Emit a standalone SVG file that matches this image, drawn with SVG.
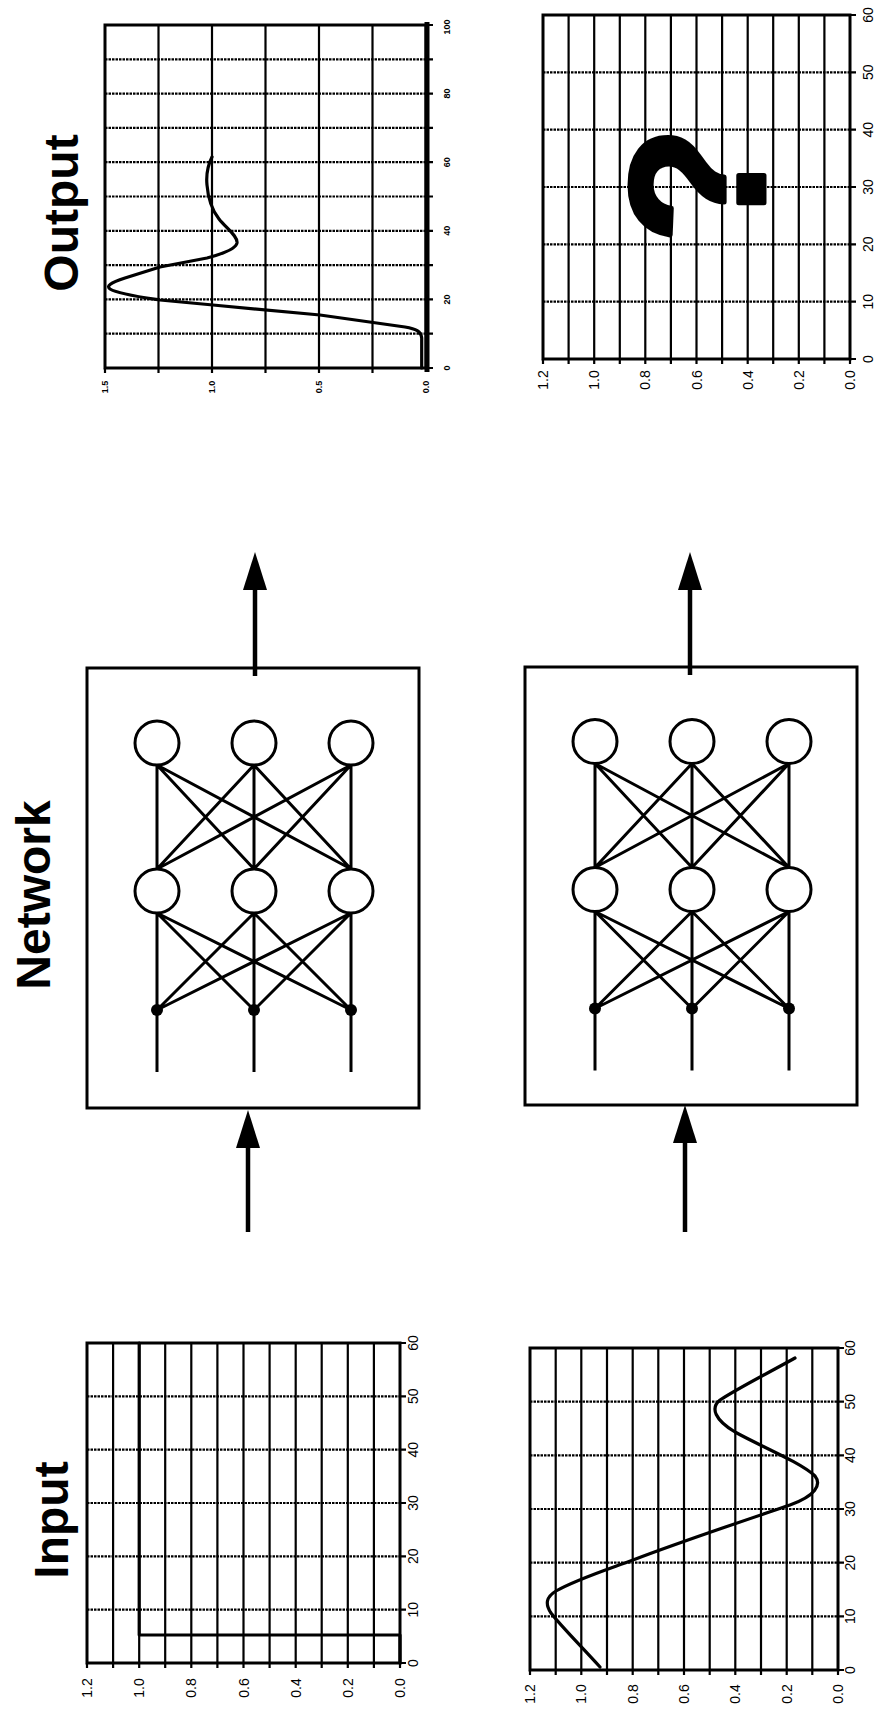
<svg xmlns="http://www.w3.org/2000/svg" width="880" height="1712" viewBox="0 0 880 1712">
<style>
.bg{fill:#fff}
.frame{fill:none;stroke:#000;stroke-width:3}
.gv{stroke:#000;stroke-width:2.2;fill:none}
.gh{stroke:#000;stroke-width:2.2;stroke-dasharray:2.5 1;fill:none}
.tk{stroke:#000;stroke-width:2.2}
.curve{fill:none;stroke:#000;stroke-width:3.2;stroke-linejoin:round;stroke-linecap:round}
.lbl{font-family:"Liberation Sans",Arial,sans-serif;font-size:14px;text-anchor:middle;dominant-baseline:central;fill:#000}
.lbls{font-family:"Liberation Sans",Arial,sans-serif;font-size:9px;font-weight:bold;text-anchor:middle;dominant-baseline:central;fill:#000}
.title{font-family:"Liberation Sans",Arial,sans-serif;font-size:48px;font-weight:bold;text-anchor:middle;fill:#000}
.box{fill:#fff;stroke:#000;stroke-width:3}
.edge{stroke:#000;stroke-width:3;fill:none}
.neuron{fill:#fff;stroke:#000;stroke-width:3}
.dot{fill:#000}
.arrow{stroke:#000;stroke-width:4.5;fill:none}
</style>
<defs>
<marker id="ah" markerUnits="userSpaceOnUse" markerWidth="40" markerHeight="24" viewBox="0 0 38 24" refX="0" refY="12" orient="auto">
<path d="M0,0 L38,12 L0,24 z" fill="#000"/>
</marker>
<g id="net">
<g class="edge">
<path d="M157,765 L157,869 M157,765 L254,869 M157,765 L351,869 M254,765 L157,869 M254,765 L254,869 M254,765 L351,869 M351,765 L157,869 M351,765 L254,869 M351,765 L351,869"/>
<path d="M157,913 L157,1010 M157,913 L254,1010 M157,913 L351,1010 M254,913 L157,1010 M254,913 L254,1010 M254,913 L351,1010 M351,913 L157,1010 M351,913 L254,1010 M351,913 L351,1010"/>
<path d="M157,1010 L157,1072 M254,1010 L254,1072 M351,1010 L351,1072"/>
</g>
<circle class="neuron" cx="157" cy="743" r="22"/>
<circle class="neuron" cx="254" cy="743" r="22"/>
<circle class="neuron" cx="351" cy="743" r="22"/>
<circle class="neuron" cx="157" cy="891" r="22"/>
<circle class="neuron" cx="254" cy="891" r="22"/>
<circle class="neuron" cx="351" cy="891" r="22"/>
<circle class="dot" cx="157" cy="1010" r="6"/>
<circle class="dot" cx="254" cy="1010" r="6"/>
<circle class="dot" cx="351" cy="1010" r="6"/>
</g>
</defs>
<rect class="bg" x="0" y="0" width="880" height="1712"/>

<g id="titles">
<text class="title" transform="translate(68,1520) rotate(-90)">Input</text>
<text class="title" transform="translate(50,895) rotate(-90)">Network</text>
<text class="title" transform="translate(78,213) rotate(-90)">Output</text>
</g>

<g id="input-chart-step">
<g class="gv">
<path d="M113.1,1343V1668 M139.2,1343V1668 M165.2,1343V1668 M191.3,1343V1668 M217.4,1343V1668 M243.5,1343V1668 M269.6,1343V1668 M295.7,1343V1668 M321.7,1343V1668 M347.8,1343V1668 M373.9,1343V1668 M87,1663V1668 M400,1663V1668"/>
</g>
<g class="gh">
<path d="M87,1396.3H400 M87,1449.7H400 M87,1503H400 M87,1556.3H400 M87,1609.7H400"/>
</g>
<g class="tk">
<path d="M400,1343H406 M400,1396.3H406 M400,1449.7H406 M400,1503H406 M400,1556.3H406 M400,1609.7H406 M400,1663H406"/>
</g>
<rect class="frame" x="87" y="1343" width="313" height="320"/>
<path class="curve" d="M400,1663 L400,1635 L139.2,1635 L139.2,1343"/>
<g class="lbl">
<text transform="translate(87,1688) rotate(-90)">1.2</text>
<text transform="translate(139.2,1688) rotate(-90)">1.0</text>
<text transform="translate(191.3,1688) rotate(-90)">0.8</text>
<text transform="translate(243.5,1688) rotate(-90)">0.6</text>
<text transform="translate(295.7,1688) rotate(-90)">0.4</text>
<text transform="translate(347.8,1688) rotate(-90)">0.2</text>
<text transform="translate(400,1688) rotate(-90)">0.0</text>
<text transform="translate(413,1343) rotate(-90)">60</text>
<text transform="translate(413,1396.3) rotate(-90)">50</text>
<text transform="translate(413,1449.7) rotate(-90)">40</text>
<text transform="translate(413,1503) rotate(-90)">30</text>
<text transform="translate(413,1556.3) rotate(-90)">20</text>
<text transform="translate(413,1609.7) rotate(-90)">10</text>
<text transform="translate(413,1663) rotate(-90)">0</text>
</g>
</g>

<g id="input-chart-sine">
<g class="gv">
<path d="M555.7,1348V1675 M581.3,1348V1675 M607,1348V1675 M632.7,1348V1675 M658.3,1348V1675 M684,1348V1675 M709.7,1348V1675 M735.3,1348V1675 M761,1348V1675 M786.7,1348V1675 M812.3,1348V1675 M530,1670V1675 M838,1670V1675"/>
</g>
<g class="gh">
<path d="M530,1401.7H838 M530,1455.3H838 M530,1509H838 M530,1562.7H838 M530,1616.3H838"/>
</g>
<g class="tk">
<path d="M838,1348H844 M838,1401.7H844 M838,1455.3H844 M838,1509H844 M838,1562.7H844 M838,1616.3H844 M838,1670H844"/>
</g>
<rect class="frame" x="530" y="1348" width="308" height="322"/>
<path class="curve" d="M600,1667 C580,1645 560,1625 551,1613 C545,1604 546,1597 556,1591 C575,1580 600,1572 633,1560 C680,1542 740,1522 790,1505 C815,1496 822,1485 815,1476 C800,1462 760,1446 735,1432 C715,1420 710,1408 720,1400 C740,1387 770,1372 795,1358"/>
<g class="lbl">
<text transform="translate(530,1694) rotate(-90)">1.2</text>
<text transform="translate(581.3,1694) rotate(-90)">1.0</text>
<text transform="translate(632.7,1694) rotate(-90)">0.8</text>
<text transform="translate(684,1694) rotate(-90)">0.6</text>
<text transform="translate(735.3,1694) rotate(-90)">0.4</text>
<text transform="translate(786.7,1694) rotate(-90)">0.2</text>
<text transform="translate(838,1694) rotate(-90)">0.0</text>
<text transform="translate(850,1348) rotate(-90)">60</text>
<text transform="translate(850,1401.7) rotate(-90)">50</text>
<text transform="translate(850,1455.3) rotate(-90)">40</text>
<text transform="translate(850,1509) rotate(-90)">30</text>
<text transform="translate(850,1562.7) rotate(-90)">20</text>
<text transform="translate(850,1616.3) rotate(-90)">10</text>
<text transform="translate(850,1670) rotate(-90)">0</text>
</g>
</g>

<g id="network-1">
<rect class="box" x="87" y="668" width="332" height="440"/>
<use href="#net"/>
</g>
<g id="network-2">
<rect class="box" x="525" y="667" width="332" height="438"/>
<use href="#net" transform="translate(438,-1.5)"/>
</g>

<g id="connectors">
<path class="arrow" d="M248,1232 L248,1148" marker-end="url(#ah)"/>
<path class="arrow" d="M255,676 L255,590" marker-end="url(#ah)"/>
<path class="arrow" d="M685,1232 L685,1143" marker-end="url(#ah)"/>
<path class="arrow" d="M690,675 L690,590" marker-end="url(#ah)"/>
</g>

<g id="output-chart-1">
<g class="gv">
<path d="M158.5,25V373 M212,25V373 M265.5,25V373 M319,25V373 M372.5,25V373 M105,368V373"/>
</g>
<g class="gh">
<path d="M105,59.3H426 M105,93.6H426 M105,127.9H426 M105,162.2H426 M105,196.5H426 M105,230.8H426 M105,265.1H426 M105,299.4H426 M105,333.7H426"/>
</g>
<g class="tk">
<path d="M426,25H433 M426,59.3H433 M426,93.6H433 M426,127.9H433 M426,162.2H433 M426,196.5H433 M426,230.8H433 M426,265.1H433 M426,299.4H433 M426,333.7H433 M426,368H433"/>
</g>
<rect class="frame" x="105" y="25" width="321" height="343"/>
<path d="M427,22V372" stroke="#000" stroke-width="5"/>
<path class="curve" d="M421.7,368 L421.7,338 C421,331 416,329 405,327 L320,315 L213,305 L160,300 C140,297 118,294 110,289 C106,286 110,283 125,278 L160,267 L207,258 C222,254 236,249 237,243 C238,236 226,228 219,219 C212,210 208,198 207,185 C206,175 208,165 212,157"/>
<g class="lbls">
<text transform="translate(105,387) rotate(-90)">1.5</text>
<text transform="translate(212,387) rotate(-90)">1.0</text>
<text transform="translate(319,387) rotate(-90)">0.5</text>
<text transform="translate(426,387) rotate(-90)">0.0</text>
<text transform="translate(447,27) rotate(-90)">100</text>
<text transform="translate(447,93.6) rotate(-90)">80</text>
<text transform="translate(447,162.2) rotate(-90)">60</text>
<text transform="translate(447,230.8) rotate(-90)">40</text>
<text transform="translate(447,299.4) rotate(-90)">20</text>
<text transform="translate(447,368) rotate(-90)">0</text>
</g>
</g>

<g id="output-chart-2">
<g class="gv">
<path d="M568.6,15V364 M594.2,15V364 M619.8,15V364 M645.3,15V364 M670.9,15V364 M696.5,15V364 M722.1,15V364 M747.7,15V364 M773.2,15V364 M798.8,15V364 M824.4,15V364 M543,359V364 M850,359V364"/>
</g>
<g class="gh">
<path d="M543,72.3H850 M543,129.7H850 M543,187H850 M543,244.3H850 M543,301.7H850"/>
</g>
<g class="tk">
<path d="M850,15H856 M850,72.3H856 M850,129.7H856 M850,187H856 M850,244.3H856 M850,301.7H856 M850,359H856"/>
</g>
<rect class="frame" x="543" y="15" width="307" height="344"/>
<text transform="translate(764,185) rotate(-90)" font-family="Liberation Sans, Arial, sans-serif" font-weight="bold" font-size="192" text-anchor="middle" fill="#000" stroke="#000" stroke-width="5" stroke-linejoin="round">?</text>
<g class="lbl">
<text transform="translate(543,380) rotate(-90)">1.2</text>
<text transform="translate(594.2,380) rotate(-90)">1.0</text>
<text transform="translate(645.3,380) rotate(-90)">0.8</text>
<text transform="translate(696.5,380) rotate(-90)">0.6</text>
<text transform="translate(747.7,380) rotate(-90)">0.4</text>
<text transform="translate(798.8,380) rotate(-90)">0.2</text>
<text transform="translate(850,380) rotate(-90)">0.0</text>
<text transform="translate(868,15) rotate(-90)">60</text>
<text transform="translate(868,72.3) rotate(-90)">50</text>
<text transform="translate(868,129.7) rotate(-90)">40</text>
<text transform="translate(868,187) rotate(-90)">30</text>
<text transform="translate(868,244.3) rotate(-90)">20</text>
<text transform="translate(868,301.7) rotate(-90)">10</text>
<text transform="translate(868,359) rotate(-90)">0</text>
</g>
</g>
</svg>
